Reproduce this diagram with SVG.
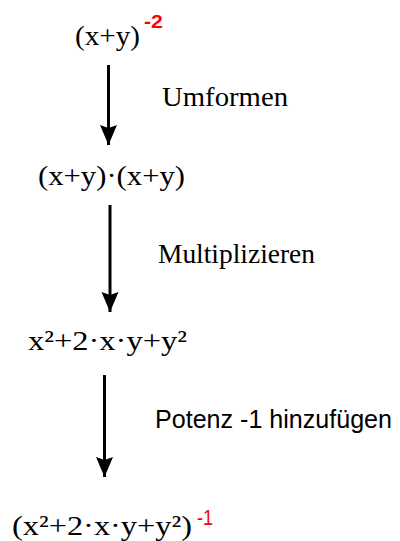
<svg xmlns="http://www.w3.org/2000/svg" width="400" height="541" viewBox="0 0 400 541">
<style>
.m{font-family:"Liberation Serif","DejaVu Serif",serif;font-size:28px;fill:#000}
.e{font-family:"Liberation Sans",Arial,sans-serif;font-weight:bold;font-size:18px;fill:#ff0000}
.e1{font-family:"Liberation Sans",Arial,sans-serif;font-size:22px;fill:#ff0000}
.l{font-family:"Liberation Serif","DejaVu Serif",serif;font-size:28px;fill:#000}
.s{font-family:"Liberation Sans",Arial,sans-serif;font-size:26px;fill:#000}
.c{stroke:#000;stroke-width:3;fill:none}
</style>
<defs>
<marker id="ah" markerUnits="userSpaceOnUse" markerWidth="22" markerHeight="20" refX="20" refY="9" orient="auto"><path d="M0,0.5 L20,9 L0,17.5 L3,9 Z" fill="#000"/></marker>
</defs>
<g id="n1"><text class="m" x="75" y="45" textLength="65" lengthAdjust="spacingAndGlyphs">(x+y)</text><text class="e" x="144" y="28" textLength="19" lengthAdjust="spacingAndGlyphs">-2</text></g>
<g id="n2"><text class="m" x="38" y="185" textLength="147" lengthAdjust="spacingAndGlyphs">(x+y)·(x+y)</text></g>
<g id="n3"><text class="m" x="28" y="350" textLength="159" lengthAdjust="spacingAndGlyphs">x²+2·x·y+y²</text></g>
<g id="n4"><text class="m" x="12" y="535" textLength="180" lengthAdjust="spacingAndGlyphs">(x²+2·x·y+y²)</text><text class="e1" x="197" y="525" textLength="16" lengthAdjust="spacingAndGlyphs">-1</text></g>
<g id="connectors">
<path class="c" d="M108.5,65 V145" marker-end="url(#ah)"/>
<path class="c" d="M110,205 V312" marker-end="url(#ah)"/>
<path class="c" d="M104.5,375 V477" marker-end="url(#ah)"/>
<text class="l" x="162" y="106" textLength="126" lengthAdjust="spacingAndGlyphs">Umformen</text>
<text class="l" x="158" y="263" textLength="157" lengthAdjust="spacingAndGlyphs">Multiplizieren</text>
<text class="s" x="155" y="428" textLength="237" lengthAdjust="spacingAndGlyphs">Potenz -1 hinzufügen</text>
</g>
</svg>
